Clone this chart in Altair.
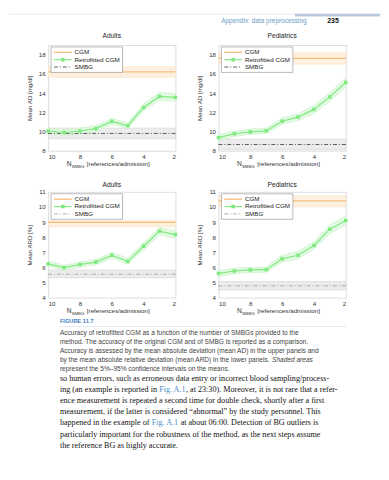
import altair as alt
import pandas as pd

# ---------------- data ----------------
N_SMBG = [10, 9, 8, 7, 6, 5, 4, 3, 2]
X_TICKS = [10, 8, 6, 4, 2]

# Mean AD [mg/dl], adults
AD_ADULT = [10.05, 9.9, 10.05, 10.3, 11.05, 10.6, 12.5, 13.65, 13.55]
AD_ADULT_LO = [9.75, 9.6, 9.75, 10.0, 10.75, 10.3, 12.15, 13.25, 13.15]
AD_ADULT_HI = [10.35, 10.2, 10.35, 10.6, 11.35, 10.9, 12.85, 14.05, 13.95]
# Mean AD [mg/dl], pediatrics
AD_PED = [9.37, 9.77, 9.96, 10.07, 11.07, 11.5, 12.3, 13.6, 15.1]
AD_PED_LO = [9.05, 9.5, 9.7, 9.8, 10.75, 11.15, 11.9, 13.15, 14.6]
AD_PED_HI = [9.7, 10.05, 10.25, 10.35, 11.4, 11.85, 12.7, 14.05, 15.6]
# Mean ARD [%], adults
ARD_ADULT = [6.23, 5.98, 6.19, 6.35, 6.8, 6.4, 7.4, 8.4, 8.17]
ARD_ADULT_LO = [6.05, 5.82, 6.03, 6.18, 6.6, 6.2, 7.15, 8.15, 7.92]
ARD_ADULT_HI = [6.41, 6.14, 6.35, 6.52, 7.0, 6.6, 7.65, 8.65, 8.42]
# Mean ARD [%], pediatrics
ARD_PED = [5.6, 5.76, 5.83, 5.85, 6.57, 6.8, 7.45, 8.53, 9.1]
ARD_PED_LO = [5.4, 5.58, 5.66, 5.68, 6.35, 6.55, 7.2, 8.25, 8.8]
ARD_PED_HI = [5.8, 5.94, 6.0, 6.02, 6.8, 7.05, 7.7, 8.8, 9.4]

# reference accuracies: [mean, ci low, ci high]
CGM_AD_ADULT = [16.2, 15.65, 16.75]
SMBG_AD_ADULT = [9.8, 9.25, 10.35]
CGM_AD_PED = [17.6, 17.0, 18.2]
SMBG_AD_PED = [8.65, 8.1, 9.2]
CGM_ARD_ADULT = [8.98, 8.68, 9.08]
SMBG_ARD_ADULT = [5.55, 5.3, 5.83]
CGM_ARD_PED = [10.4, 10.0, 10.75]
SMBG_ARD_PED = [4.78, 4.5, 5.07]

AD_TICKS = [8, 10, 12, 14, 16, 18]
ARD_TICKS = [4, 5, 6, 7, 8, 9, 10, 11]

TITLES = ["Adults", "Pediatrics"]
Y_TITLES = ["Mean AD [mg/dl]", "Mean ARD [%]"]
LEGEND = ["CGM", "Retrofitted CGM", "SMBG"]
X_TITLE = ["N", "SMBG", "[references/admission]"]

HEADER = "Appendix: data preprocessing"
PAGE_NO = "235"
FIG_LABEL = "FIGURE 11.7"
CAPTION = [
    ["Accuracy of retrofitted CGM as a function of the number of SMBGs provided to the"],
    ["method. The accuracy of the original CGM and of SMBG is reported as a comparison."],
    ["Accuracy is assessed by the mean absolute deviation (mean AD) in the upper panels and"],
    ["by the mean absolute relative deviation (mean ARD) in the lower panels. ", "Shaded areas"],
    ["represent the 5%\u201395% confidence intervals on the means."],
]
BODY = [
    ["so human errors, such as erroneous data entry or incorrect blood sampling/process-"],
    ["ing (an example is reported in ", "Fig. A.1", ", at 23:30). Moreover, it is not rare that a refer-"],
    ["ence measurement is repeated a second time for double check, shortly after a first"],
    ["measurement, if the latter is considered \u201cabnormal\u201d by the study personnel. This"],
    ["happened in the example of ", "Fig. A.1", " at about 06:00. Detection of BG outliers is"],
    ["particularly important for the robustness of the method, as the next steps assume"],
    ["the reference BG as highly accurate."],
]

# ---------------- style ----------------
SANS = "Liberation Sans"
SERIF = "Liberation Serif"
ORANGE = "#f6bf7c"
ORANGE_BAND = "#fdf0df"
ORANGE_EDGE = "#fbe0bf"
GREEN = "#7eea7e"
GREEN_BAND = "#e3f9e3"
GREEN_EDGE = "#c2f2c2"
GRAY_BAND = "#ececec"
GRAY_EDGE = "#cdcdcd"
DASHDOT = [4, 2, 1, 2]
BLUE = "#6a9cc8"
LINK = "#4f8fc9"
W, H = 130, 108
TICK_FS = 6.3

# approximate advance widths (per 1000 em) for Liberation Sans / Serif,
# used only to place the differently styled pieces of a text line
_CHARS = " !\"%'(),-./0123456789:;?[]abcdefghijklmnopqrstuvwxyzABCDEFGHIJKLMNOPQRSTUVWXYZ\u2013\u201c\u201d"
_SANS_W = dict(zip(_CHARS,
    [278, 278, 355, 889, 191, 333, 333, 278, 333, 278, 278] + [556] * 10 +
    [278, 278, 556, 278, 278,
     556, 556, 500, 556, 556, 278, 556, 556, 222, 222, 500, 222, 833, 556, 556, 556, 556,
     333, 500, 278, 556, 500, 722, 500, 500, 500,
     667, 667, 722, 722, 667, 611, 778, 722, 278, 500, 667, 556, 833, 722, 778, 667, 778,
     722, 667, 611, 722, 667, 944, 667, 667, 611, 556, 333, 333]))
_SERIF_W = dict(zip(_CHARS,
    [250, 333, 408, 833, 180, 333, 333, 250, 333, 250, 278] + [500] * 10 +
    [278, 278, 444, 333, 333,
     444, 500, 444, 500, 444, 333, 500, 500, 278, 278, 500, 278, 778, 500, 500, 500, 500,
     333, 389, 278, 500, 500, 722, 500, 500, 444,
     722, 667, 667, 722, 611, 556, 722, 722, 333, 389, 722, 611, 889, 722, 722, 556, 722,
     667, 556, 611, 722, 722, 944, 722, 722, 611, 500, 444, 444]))


def text_width(s, size, table):
    return sum(table.get(ch, 500) for ch in s) / 1000.0 * size


def one():
    return pd.DataFrame({"k": [0]})


def vtext(txt, x, y, size, color="#222", align="left", weight="normal",
          font=SANS, style="normal"):
    return alt.Chart(one()).mark_text(
        text=txt, align=align, baseline="middle", fontSize=size, color=color,
        fontWeight=weight, font=font, fontStyle=style
    ).encode(x=alt.value(x), y=alt.value(y))


def vrule(x1, x2, y, color, width=1.0, dash=None):
    kw = {"strokeDash": dash} if dash else {}
    return alt.Chart(one()).mark_rule(color=color, strokeWidth=width, **kw).encode(
        x=alt.value(x1), x2=alt.value(x2), y=alt.value(y))


def vrect(x1, x2, y1, y2, fill, stroke=None, sw=0.5):
    kw = {"stroke": stroke, "strokeWidth": sw} if stroke else {}
    return alt.Chart(one()).mark_rect(fill=fill, **kw).encode(
        x=alt.value(x1), x2=alt.value(x2), y=alt.value(y1), y2=alt.value(y2))


def panel(title, mean, lo, hi, cgm, smbg, ydom, yticks, ytitle, smbg_color,
          title_y, extra=()):
    df = pd.DataFrame({"N": N_SMBG, "m": mean, "lo": lo, "hi": hi})
    ref = pd.DataFrame({
        "xa": [max(N_SMBG)], "xb": [min(N_SMBG)],
        "c": [cgm[0]], "clo": [cgm[1]], "chi": [cgm[2]],
        "s": [smbg[0]], "slo": [smbg[1]], "shi": [smbg[2]],
    })
    xsc = alt.Scale(domain=[min(N_SMBG), max(N_SMBG)], reverse=True, nice=False, zero=False)
    ysc = alt.Scale(domain=ydom, nice=False, zero=False)
    xax = alt.Axis(values=X_TICKS, format="d", title=None, grid=False, ticks=False,
                   labelPadding=3, labelFontSize=TICK_FS, labelColor="#333", domain=False,
                   labelFont=SANS)
    yax = alt.Axis(values=yticks, format="d", title=ytitle, grid=False, ticks=False,
                   labelPadding=3, labelFontSize=TICK_FS, titleFontSize=6.3,
                   titleFontWeight="normal", titlePadding=6, labelColor="#333",
                   titleColor="#333", domain=False, labelFont=SANS, titleFont=SANS)
    X = lambda f: alt.X(f, scale=xsc, axis=xax)
    Y = lambda f: alt.Y(f, scale=ysc, axis=yax)
    rb = alt.Chart(ref)
    cb = alt.Chart(df)
    layers = [
        rb.mark_rect(fill=GRAY_BAND, stroke=GRAY_EDGE, strokeWidth=0.5).encode(
            x=X("xa:Q"), x2="xb:Q", y=Y("slo:Q"), y2="shi:Q"),
        rb.mark_rect(fill=ORANGE_BAND, stroke=ORANGE_EDGE, strokeWidth=0.5).encode(
            x=X("xa:Q"), x2="xb:Q", y=Y("clo:Q"), y2="chi:Q"),
        cb.mark_area(color=GREEN_BAND, opacity=1).encode(
            x=X("N:Q"), y=Y("lo:Q"), y2="hi:Q"),
        cb.mark_line(color=GREEN_EDGE, strokeWidth=0.6).encode(x=X("N:Q"), y=Y("lo:Q")),
        cb.mark_line(color=GREEN_EDGE, strokeWidth=0.6).encode(x=X("N:Q"), y=Y("hi:Q")),
        rb.mark_rule(color=ORANGE, strokeWidth=1.3).encode(
            x=X("xa:Q"), x2="xb:Q", y=Y("c:Q")),
        rb.mark_rule(color=smbg_color, strokeWidth=0.8, strokeDash=DASHDOT).encode(
            x=X("xa:Q"), x2="xb:Q", y=Y("s:Q")),
        cb.mark_line(color=GREEN, strokeWidth=1.2).encode(x=X("N:Q"), y=Y("m:Q")),
        cb.mark_point(shape="square", filled=True, size=13, color=GREEN, opacity=1).encode(
            x=X("N:Q"), y=Y("m:Q")),
        # legend
        vrect(3, 76, 2, 28, "white", "#8a8a8a", 0.6),
        vrule(6, 24, 7.5, ORANGE, 1.4),
        vrule(6, 24, 15, GREEN, 1.2),
        alt.Chart(one()).mark_point(shape="square", filled=True, size=13, color=GREEN,
                                    opacity=1).encode(x=alt.value(15), y=alt.value(15)),
        vrule(6, 24, 22.5, smbg_color, 0.8, DASHDOT),
        vtext(LEGEND[0], 27, 7.5, 6.4),
        vtext(LEGEND[1], 27, 15, 6.4),
        vtext(LEGEND[2], 27, 22.5, 6.4),
        # panel title
        vtext(title, W / 2, title_y, 6.8, "#222", align="center"),
        # x title with subscript
        vtext(X_TITLE[0], 19, H + 14, 6.8, "#333"),
        vtext(X_TITLE[1], 24, H + 17, 4.4, "#333"),
        vtext(X_TITLE[2], 39.5, H + 14, 6.4, "#333"),
    ]
    layers += list(extra)
    return alt.layer(*layers).properties(width=W, height=H)


def styled_line(segs, x0, y, size, font, table, colors, styles):
    out = []
    x = x0
    for j, s in enumerate(segs):
        lead = len(s) - len(s.lstrip(" "))
        x += text_width(" " * lead, size, table)
        body = s.lstrip(" ")
        out.append(vtext(body, x, y, size, colors[j], font=font, style=styles[j]))
        x += text_width(body, size, table)
    return out


# page furniture, positioned relative to the top-left panel origin (page x 48, y 40)
CAP_FS = 6.7
BODY_FS = 8.3
page = [
    vrule(-40, 339, -31.5, "#d6e2ec", 0.6),
    vrect(252, 339, -32, -29, "#bccbdb"),
    vtext(HEADER, 264, -24.5, 6.6, BLUE, align="right"),
    vtext(PAGE_NO, 285, -24.5, 7.2, "#111", weight="bold"),
    vtext(FIG_LABEL, 12, 282, 5.8, "#3b7cbf", weight="bold"),
    vrule(12, 304, 287.5, "#c9d8e6", 0.6),
]
for i, segs in enumerate(CAPTION):
    page += styled_line(segs, 12, 294 + 9.3 * i, CAP_FS, SANS, _SANS_W,
                        ["#444", "#444"], ["normal", "italic"])
for i, segs in enumerate(BODY):
    page += styled_line(segs, 12, 341 + 11.4 * i, BODY_FS, SERIF, _SERIF_W,
                        ["#111", LINK, "#111"], ["normal", "normal", "normal"])

tl = panel(TITLES[0], AD_ADULT, AD_ADULT_LO, AD_ADULT_HI, CGM_AD_ADULT, SMBG_AD_ADULT,
           [8, 19], AD_TICKS, Y_TITLES[0], "#333", -9, extra=page)
tr = panel(TITLES[1], AD_PED, AD_PED_LO, AD_PED_HI, CGM_AD_PED, SMBG_AD_PED,
           [8, 19], AD_TICKS, Y_TITLES[0], "#333", -9)
bl = panel(TITLES[0], ARD_ADULT, ARD_ADULT_LO, ARD_ADULT_HI, CGM_ARD_ADULT, SMBG_ARD_ADULT,
           [4, 11], ARD_TICKS, Y_TITLES[1], "#999", -7)
br = panel(TITLES[1], ARD_PED, ARD_PED_LO, ARD_PED_HI, CGM_ARD_PED, SMBG_ARD_PED,
           [4, 11], ARD_TICKS, Y_TITLES[1], "#999", -7)

chart = alt.concat(
    tl, tr, bl, br, columns=2,
    spacing=alt.RowColnumber(row=42, column=44), bounds="flush",
).properties(
    padding={"left": 0, "top": 0, "right": 0, "bottom": 0},
).configure_view(
    stroke="#777", strokeWidth=0.6,
).configure(font=SANS)

chart.save("out.html", embed_options={"renderer": "svg", "actions": False})
